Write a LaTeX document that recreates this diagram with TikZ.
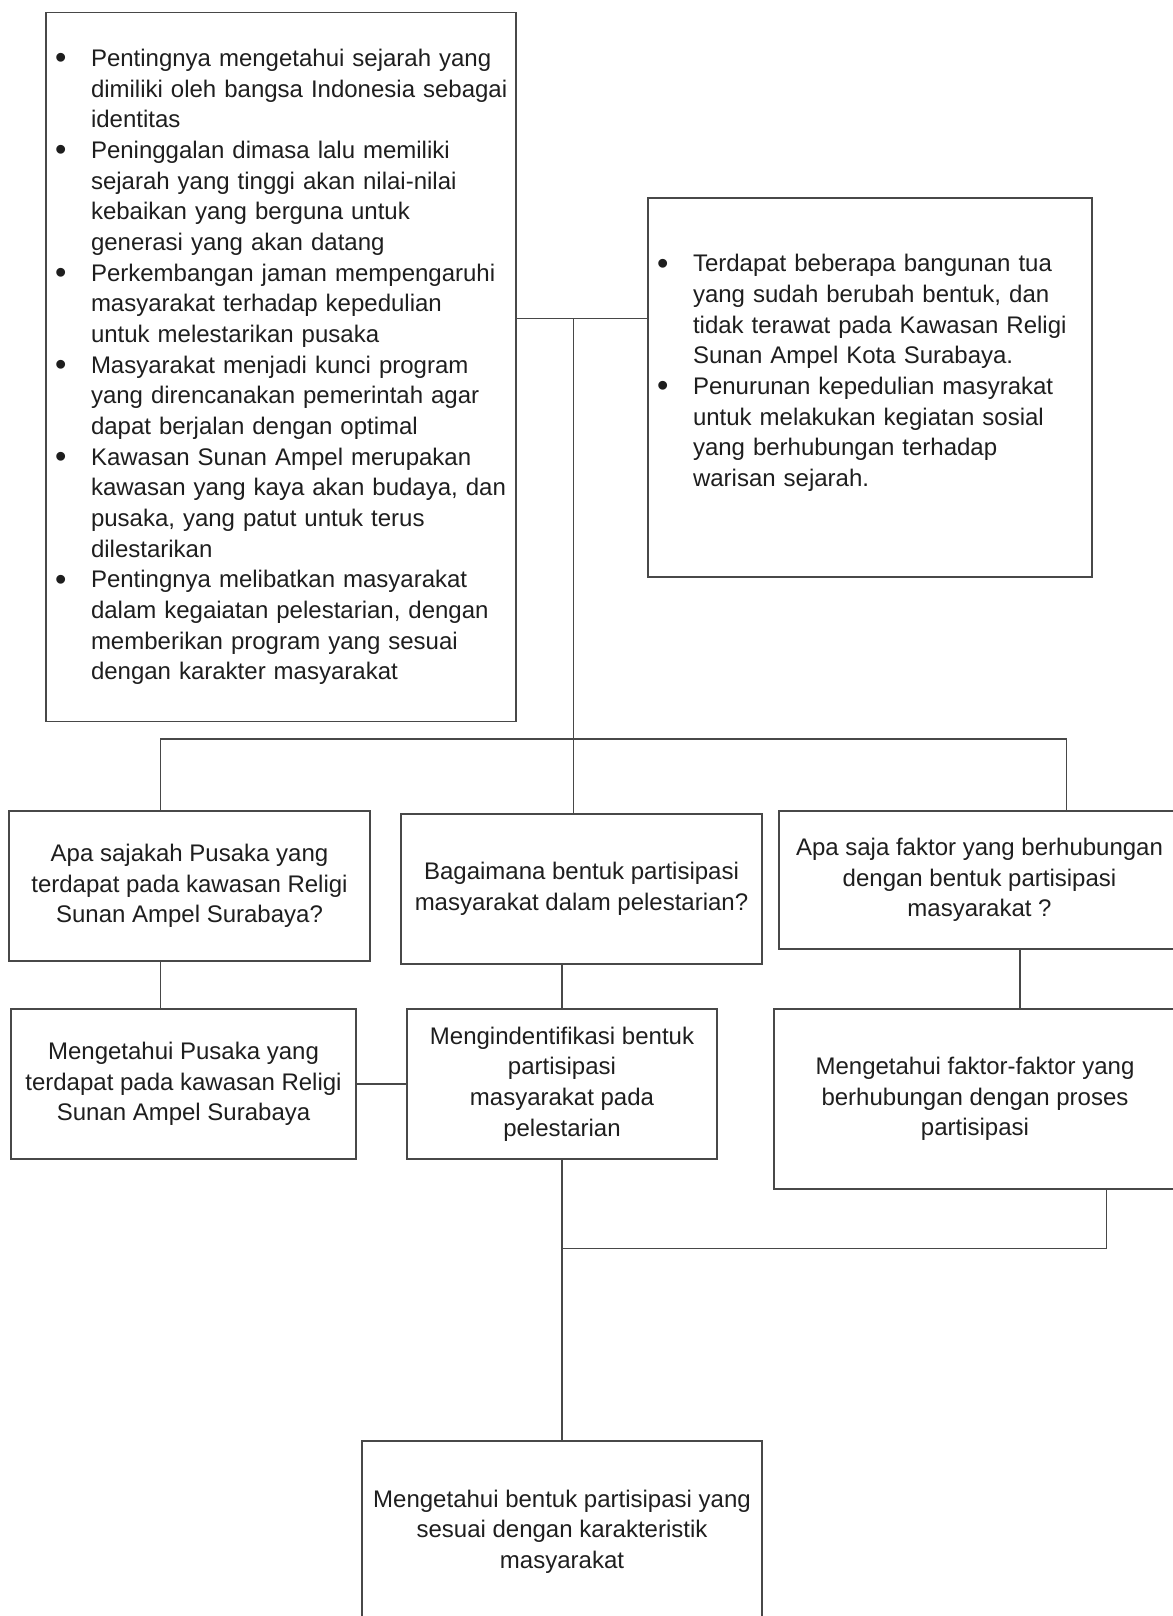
\documentclass[tikz,border=0pt]{standalone}
\usepackage{fontspec}
\setmainfont{Liberation Sans}
\usetikzlibrary{positioning}
\definecolor{edge}{HTML}{484848}
\definecolor{ink}{HTML}{1E1E1E}
\newcommand{\bul}{\raisebox{-1.2pt}{\scalebox{1.35}{\textbullet}}}

\begin{document}
\begin{tikzpicture}[x=0.5pt, y=-0.5pt, font=\fontsize{12}{15.33}\selectfont, text=ink,
  box/.style={draw=edge, line width=0.75pt, align=center, inner sep=0pt},
  list/.style={box, align=left, inner xsep=4.5pt, inner ysep=0pt},
  ln/.style={draw=edge, line width=0.65pt}]
\useasboundingbox (0,0) rectangle (1172,1616);
% latar belakang dan permasalahan
\node[list, text width=226pt, minimum width=235pt, minimum height=354.5pt] (lft) at (281,367) {%
\begin{tabular}{@{}p{18pt}@{}l@{}}
\bul & Pentingnya mengetahui sejarah yang\\
 & dimiliki oleh bangsa Indonesia sebagai\\
 & identitas\\
\bul & Peninggalan dimasa lalu memiliki\\
 & sejarah yang tinggi akan nilai-nilai\\
 & kebaikan yang berguna untuk\\
 & generasi yang akan datang\\
\bul & Perkembangan jaman mempengaruhi\\
 & masyarakat terhadap kepedulian\\
 & untuk melestarikan pusaka\\
\bul & Masyarakat menjadi kunci program\\
 & yang direncanakan pemerintah agar\\
 & dapat berjalan dengan optimal\\
\bul & Kawasan Sunan Ampel merupakan\\
 & kawasan yang kaya akan budaya, dan\\
 & pusaka, yang patut untuk terus\\
 & dilestarikan\\
\bul & Pentingnya melibatkan masyarakat\\
 & dalam kegaiatan pelestarian, dengan\\
 & memberikan program yang sesuai\\
 & dengan karakter masyarakat
\end{tabular}};
\node[list, text width=213pt, minimum width=222pt, minimum height=189.5pt] (rgt) at (870,387.5) {%
\begin{tabular}{@{}p{18pt}@{}l@{}}
\bul & Terdapat beberapa bangunan tua\\
 & yang sudah berubah bentuk, dan\\
 & tidak terawat pada Kawasan Religi\\
 & Sunan Ampel Kota Surabaya.\\
\bul & Penurunan kepedulian masyrakat\\
 & untuk melakukan kegiatan sosial\\
 & yang berhubungan terhadap\\
 & warisan sejarah.\rule[-19pt]{0pt}{0pt}
\end{tabular}};
% rumusan masalah
\node[box, minimum width=180.5pt, minimum height=75pt] (q1) at (189.5,886) {Apa sajakah Pusaka yang\\terdapat pada kawasan Religi\\Sunan Ampel Surabaya?};
\node[box, minimum width=180.5pt, minimum height=75pt] (q2) at (581.5,889) {Bagaimana bentuk partisipasi\\masyarakat dalam pelestarian?};
\node[box, minimum width=200.5pt, minimum height=69pt] (q3) at (979.5,880) {Apa saja faktor yang berhubungan\\dengan bentuk partisipasi\\masyarakat ?};
% tujuan
\node[box, minimum width=172.5pt, minimum height=75pt] (o1) at (183.5,1084) {Mengetahui Pusaka yang\\terdapat pada kawasan Religi\\Sunan Ampel Surabaya};
\node[box, minimum width=155pt, minimum height=75pt] (o2) at (562,1084) {Mengindentifikasi bentuk\\partisipasi\\masyarakat pada\\pelestarian};
\node[box, minimum width=201pt, minimum height=90pt] (o3) at (975,1099) {Mengetahui faktor-faktor yang\\berhubungan dengan proses\\partisipasi};
% sasaran akhir
\node[box, minimum width=200pt, minimum height=90.5pt] (fin) at (562,1531.5) {Mengetahui bentuk partisipasi yang\\sesuai dengan karakteristik\\masyarakat};
% titik bantu
\coordinate (top) at (573.5,318.5);
\coordinate (bl) at (160.7,739);
\coordinate (br) at (1066.5,739);
\coordinate (mk1) at (619,739);
\coordinate (mk2) at (661,739);
\coordinate (c3) at (1020,0);
\coordinate (c4) at (1106.5,1248.7);
\coordinate (mj) at (562,1248.7);
% garis penghubung
\draw[ln] (lft.east |- top) -- (rgt.west |- top);
\draw[ln] (top) -- (top |- q2.north);
\draw[ln] (bl |- q1.north) -- (bl) -- (br) -- (br |- q3.north);
\draw[draw=edge, line width=1.4pt] (mk1) -- (mk2);
\draw[ln] (bl |- q1.south) -- (bl |- o1.north);
\draw[ln] (q2.south -| o2) -- (o2.north);
\draw[ln] (c3 |- q3.south) -- (c3 |- o3.north);
\draw[ln] (o1) -- (o2);
\draw[ln] (o2) -- (fin);
\draw[ln] (c4 |- o3.south) -- (c4) -- (mj);
\end{tikzpicture}
\end{document}
